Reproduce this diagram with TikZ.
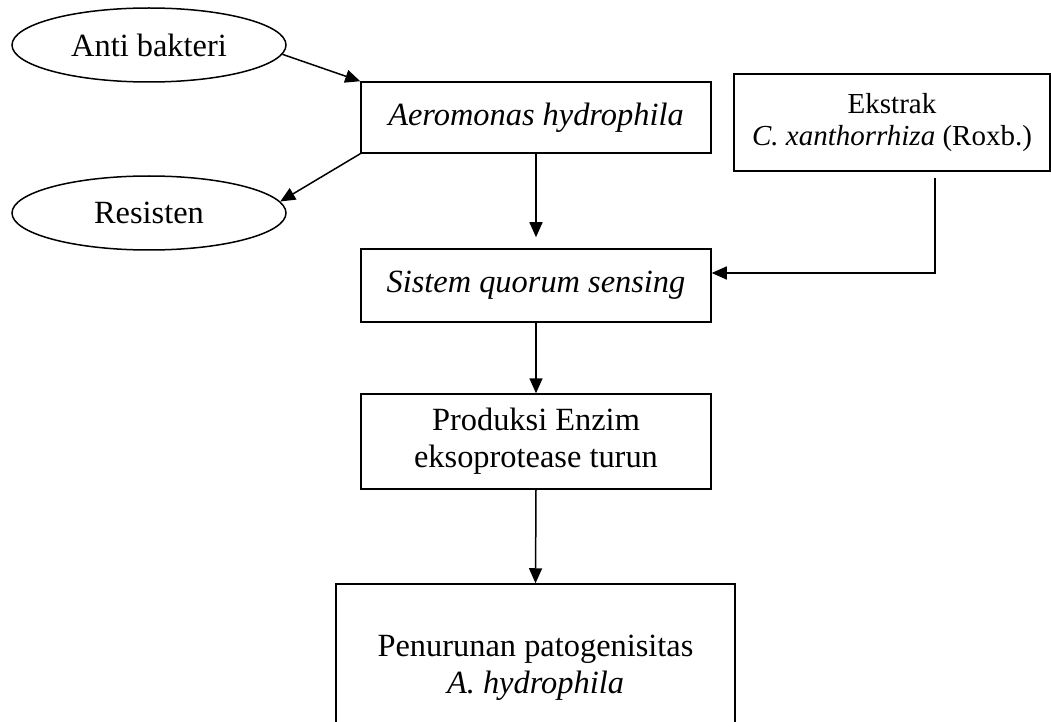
\documentclass[tikz,border=0pt]{standalone}
\usepackage{fontspec}
\setmainfont{Liberation Serif}
\usetikzlibrary{arrows.meta,shapes.geometric}

\tikzset{
  box/.style={draw, rectangle, line width=0.75pt, inner sep=0pt, align=center},
  oval/.style={draw, ellipse, line width=0.75pt, inner sep=0pt, minimum width=137pt, minimum height=37pt},
  arr/.style={line width=0.75pt, -{Triangle[width=6.5pt,length=7.5pt]}}
}

\begin{document}
\begin{tikzpicture}[x=0.5pt, y=-0.5pt, font=\fontsize{16.2pt}{18.4pt}\selectfont]
\useasboundingbox (0,0) rectangle (1051,722);
\clip (0,0) rectangle (1051,722);

\node[oval] (anti) at (149,45) {Anti bakteri};
\node[oval] (resisten) at (149,213) {Resisten};
\node[box, minimum width=175pt, minimum height=35.5pt] (aero) at (536,117.5) {\textit{Aeromonas hydrophila}};
\node[box, minimum width=158pt, minimum height=48.5pt, font=\fontsize{14.5pt}{15.9pt}\selectfont] (ekstrak) at (892,122.5)
  {Ekstrak\\ \textit{C. xanthorrhiza} (Roxb.)};
\node[box, minimum width=175pt, minimum height=36.5pt] (sistem) at (536,285.5) {\textit{Sistem quorum sensing}};
\node[box, minimum width=175pt, minimum height=47.5pt] (produksi) at (536,441.5) {Produksi Enzim\\ eksoprotease turun};
\node[box, minimum width=199.5pt, minimum height=84pt] (turun) at (535.5,668) {Penurunan patogenisitas\\ \textit{A. hydrophila}};

\draw[arr] (anti.-4) -- (aero.north west);
\draw[arr] (aero.south west) -- (resisten.5);
\draw[arr, shorten >=5.5pt] (aero.south) -- (sistem.north);
\draw[arr] ([xshift=21.5pt,yshift=-3pt]ekstrak.south) |- ([yshift=6.25pt]sistem.east);
\draw[arr] (sistem.south) -- (produksi.north);
\draw[arr] (produksi.south) -- (turun.north);
\end{tikzpicture}
\end{document}
